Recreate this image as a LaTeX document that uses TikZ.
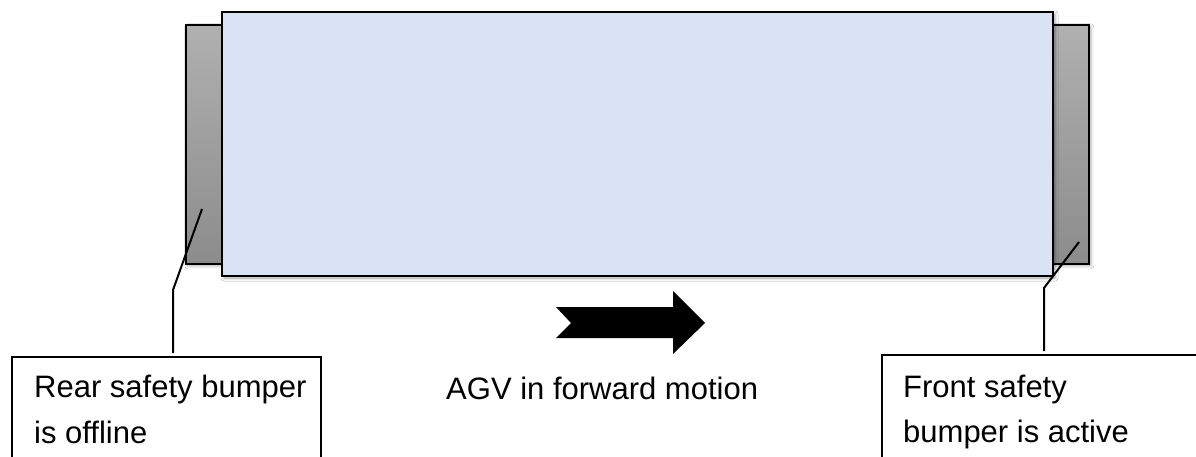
\documentclass[tikz,border=0pt]{standalone}
\usepackage{fontspec}
\setmainfont{Liberation Sans}
\usetikzlibrary{shadows.blur}
\definecolor{bodyblue}{HTML}{DAE3F3}
\definecolor{bumptop}{HTML}{B0B0B0}
\definecolor{bumpbot}{HTML}{8C8C8C}
\begin{document}
\begin{tikzpicture}[x=1pt,y=-1pt,
  softshadow/.style={blur shadow={shadow xshift=2pt,shadow yshift=-2pt,
      shadow blur radius=3pt,shadow opacity=35}},
  bodybox/.style={draw=black,line width=2pt,fill=bodyblue,softshadow,
      inner sep=0pt,anchor=north west,minimum width=831pt,minimum height=264pt},
  bumper/.style={draw=black,line width=1.6pt,top color=bumptop,bottom color=bumpbot,
      softshadow,inner sep=0pt,anchor=north west,minimum width=36pt,minimum height=239pt},
  callout/.style={draw=black,line width=2pt,fill=white,inner sep=0pt,anchor=north west},
  leader/.style={draw=black,line width=2pt},
  lbl/.style={inner sep=0pt,anchor=base west,font=\fontsize{31}{46}\selectfont}]
\useasboundingbox (0,0) rectangle (1196,457);
\fill[white] (0,0) rectangle (1196,457);

% bumpers at both ends of the vehicle
\node[bumper] (rear) at (185,24) {};
\node[bumper] (front) at (1052,24) {};

% vehicle body
\node[bodybox] (agv) at (221,11) {};

% callout boxes (open towards the bottom edge)
\node[callout,minimum width=309pt,minimum height=130pt] (rearbox) at (11,356) {};
\node[callout,minimum width=340pt,minimum height=130pt] (frontbox) at (881,354) {};

% leader lines from the bumpers to the callouts
\coordinate (rearpt) at (202,209);
\coordinate (rearbend) at (173,290);
\coordinate (frontpt) at (1079,242);
\coordinate (frontbend) at (1044,288);
\draw[leader] (rearpt) -- (rearbend) -- ([yshift=3pt]rearbend |- rearbox.north);
\draw[leader] (frontpt) -- (frontbend) -- ([yshift=3pt]frontbend |- frontbox.north);

% notched direction arrow
\fill[black] (556,307) -- (673,307) -- (673,291) -- (705,323) -- (673,354)
  -- (673,338) -- (556,338) -- (571,323) -- cycle;

% labels
\node[lbl] (rear1) at (34,397) {Rear safety bumper};
\node[lbl] (rear2) at (34,443) {is offline};
\node[lbl] (motion) at (446,399) {AGV in forward motion};
\node[lbl] (front1) at (903,397) {Front safety};
\node[lbl] (front2) at (903,442) {bumper is active};
\end{tikzpicture}
\end{document}
